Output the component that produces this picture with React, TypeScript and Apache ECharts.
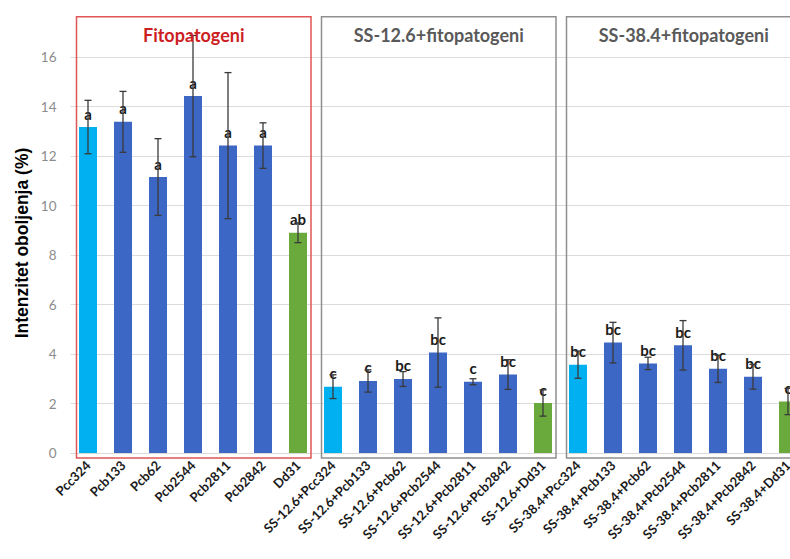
import React, { useEffect, useRef } from 'react';
import * as echarts from 'echarts';

const categories = [
  'Pcc324', 'Pcb133', 'Pcb62', 'Pcb2544', 'Pcb2811', 'Pcb2842', 'Dd31',
  'SS-12.6+Pcc324', 'SS-12.6+Pcb133', 'SS-12.6+Pcb62', 'SS-12.6+Pcb2544', 'SS-12.6+Pcb2811', 'SS-12.6+Pcb2842', 'SS-12.6+Dd31',
  'SS-38.4+Pcc324', 'SS-38.4+Pcb133', 'SS-38.4+Pcb62', 'SS-38.4+Pcb2544', 'SS-38.4+Pcb2811', 'SS-38.4+Pcb2842', 'SS-38.4+Dd31',
];
const values = [
  13.17, 13.38, 11.15, 14.42, 12.42, 12.42, 8.9,
  2.68, 2.91, 2.99, 4.06, 2.88, 3.17, 2.02,
  3.57, 4.46, 3.62, 4.35, 3.4, 3.08, 2.08,
];
const errors = [
  1.08, 1.23, 1.55, 2.45, 2.95, 0.92, 0.4,
  0.48, 0.45, 0.3, 1.4, 0.12, 0.6, 0.53,
  0.55, 0.82, 0.25, 1.0, 0.55, 0.5, 0.53,
];
const letters = [
  'a', 'a', 'a', 'a', 'a', 'a', 'ab',
  'c', 'c', 'bc', 'bc', 'c', 'bc', 'c',
  'bc', 'bc', 'bc', 'bc', 'bc', 'bc', 'c',
];
const groupTitles = ['Fitopatogeni', 'SS-12.6+fitopatogeni', 'SS-38.4+fitopatogeni'];
const groupSize = 7;
const yAxisTitle = 'Intenzitet oboljenja (%)';

const FONT = 'Lato, "Open Sans", sans-serif';
const C_LIGHT = '#00b0f0';
const C_BLUE = '#3d67c4';
const C_GREEN = '#6aaa3c';

export default function App() {
  const ref = useRef<HTMLDivElement>(null);
  useEffect(() => {
    const chart = echarts.init(ref.current!, null, { renderer: 'svg' });
    const barData = values.map((v, i) => {
      const pos = i % groupSize;
      const color = pos === 0 ? C_LIGHT : pos === groupSize - 1 ? C_GREEN : C_BLUE;
      return { value: v, itemStyle: { color } };
    });
    chart.setOption({
      animation: false,
      textStyle: { fontFamily: FONT },
      grid: { left: 70.5, right: 4.5, top: 7.5, bottom: 106, containLabel: false },
      xAxis: {
        type: 'category',
        data: categories,
        axisTick: { show: false },
        axisLine: { show: true, lineStyle: { color: '#d9d9d9', width: 1 } },
        axisLabel: {
          interval: 0,
          rotate: 45,
          margin: 10,
          fontSize: 13,
          fontWeight: 'bold',
          color: '#1a1a1a',
          fontFamily: FONT,
        },
      },
      yAxis: {
        type: 'value',
        min: 0,
        max: 18,
        interval: 2,
        axisLine: { show: false },
        axisTick: { show: false },
        axisLabel: {
          showMaxLabel: false,
          margin: 14,
          fontSize: 13.5,
          color: '#8c8c8c',
          fontFamily: FONT,
        },
        splitLine: { show: true, showMaxLine: false, lineStyle: { color: '#dcdcdc', width: 1 } },
      },
      series: [
        {
          type: 'bar',
          data: barData,
          barWidth: 18,
          label: {
            show: true,
            position: 'top',
            distance: 6,
            fontSize: 15,
            fontWeight: 'bold',
            color: '#1a1a1a',
            fontFamily: FONT,
            formatter: (p: any) => letters[p.dataIndex],
          },
          z: 2,
        },
        {
          type: 'custom',
          data: values.map((v, i) => [i, v, errors[i]]),
          z: 3,
          renderItem: (params: any, api: any) => {
            const x = api.value(0);
            const v = api.value(1);
            const e = api.value(2);
            const top = api.coord([x, v + e]);
            const bot = api.coord([x, v - e]);
            const cw = 3.5;
            const st = { stroke: '#3a3a3a', lineWidth: 1.3 };
            return {
              type: 'group',
              children: [
                { type: 'line', shape: { x1: top[0], y1: top[1], x2: bot[0], y2: bot[1] }, style: st },
                { type: 'line', shape: { x1: top[0] - cw, y1: top[1], x2: top[0] + cw, y2: top[1] }, style: st },
                { type: 'line', shape: { x1: bot[0] - cw, y1: bot[1], x2: bot[0] + cw, y2: bot[1] }, style: st },
              ],
            };
          },
        },
      ],
    });

    const graphics: any[] = [];
    for (let g = 0; g < groupTitles.length; g++) {
      const i0 = g * groupSize;
      const i1 = i0 + groupSize - 1;
      const pL = chart.convertToPixel({ gridIndex: 0 }, [i0, 17.63]) as number[];
      const pR = chart.convertToPixel({ gridIndex: 0 }, [i1, -0.2]) as number[];
      const x0 = pL[0] - 11.5;
      const x1 = pR[0] + 13;
      const y0 = pL[1];
      const y1 = pR[1];
      const isRed = g === 0;
      graphics.push({
        type: 'rect',
        z: 1,
        shape: { x: x0, y: y0, width: x1 - x0, height: y1 - y0 },
        style: { fill: 'none', stroke: isRed ? '#e05555' : '#8f8f8f', lineWidth: 1.5 },
      });
      const ty = (chart.convertToPixel({ gridIndex: 0 }, [i0, 16.9]) as number[])[1];
      graphics.push({
        type: 'text',
        z: 5,
        x: (x0 + x1) / 2,
        y: ty,
        style: {
          text: groupTitles[g],
          fontSize: 18,
          fontWeight: 'bold',
          fontFamily: FONT,
          fill: isRed ? '#cc1f24' : '#595959',
          align: 'center',
          verticalAlign: 'middle',
        },
      });
    }
    graphics.push({
      type: 'text',
      x: 22,
      y: 243,
      rotation: Math.PI / 2,
      style: {
        text: yAxisTitle,
        fontSize: 17.5,
        fontWeight: 'bold',
        fontFamily: '"Liberation Sans", Arial, sans-serif',
        fill: '#000000',
        align: 'center',
        verticalAlign: 'middle',
      },
    });
    chart.setOption({ graphic: graphics });

    return () => chart.dispose();
  }, []);
  return (
    <div style={{ position: 'fixed', left: 0, top: 0, width: 790, height: 559, overflow: 'hidden', background: '#ffffff' }}>
      <div ref={ref} style={{ width: 810, height: 559 }} />
    </div>
  );
}
